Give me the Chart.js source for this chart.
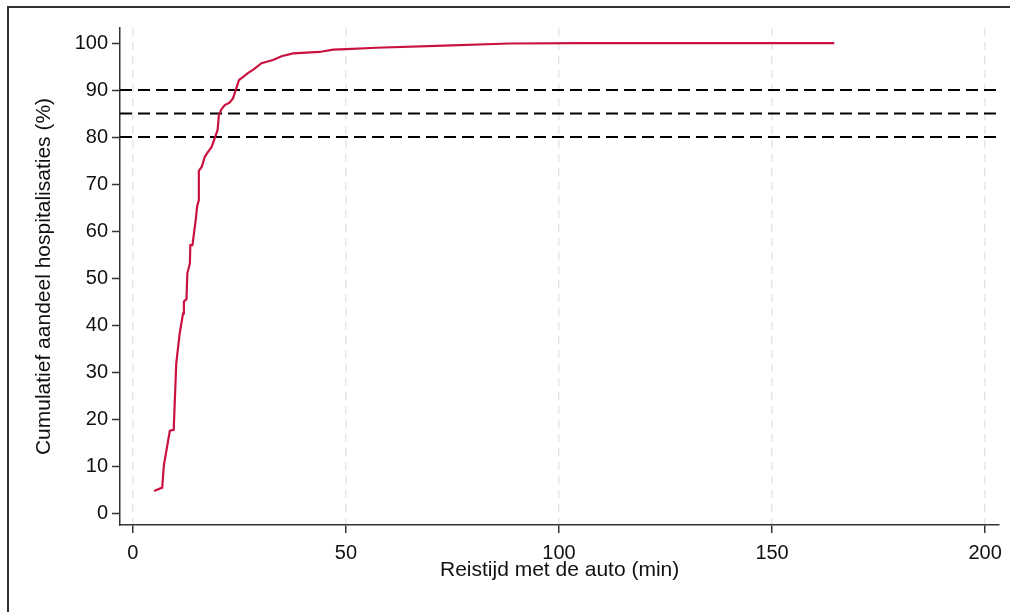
<!DOCTYPE html>
<html>
<head>
<meta charset="utf-8">
<script src="https://cdn.jsdelivr.net/npm/chart.js@4/dist/chart.umd.min.js"></script>
<style>
  html, body { margin: 0; padding: 0; background: #fff; overflow: hidden; }
  #wrap { position: relative; width: 1010px; height: 612px; }
  #frame {
    position: absolute; left: 7px; top: 6px; width: 1020px; height: 620px;
    border-left: 2px solid #333; border-top: 2px solid #333;
    pointer-events: none;
  }
  canvas { position: absolute; left: 0; top: 0; }
</style>
</head>
<body>
<div id="wrap">
  <canvas id="chart" width="1010" height="612"></canvas>
  <div id="frame"></div>
</div>
<script>
// Reistijd (min) vs cumulatief aandeel hospitalisaties (%)
const travelTime = [5.0, 6.9, 7.3, 8.7, 9.6, 10.2, 11.0, 11.8, 12.0, 12.6, 12.8, 13.4, 13.5, 14.0,
  14.8, 15.1, 15.5, 15.5, 16.2, 16.9, 17.7, 18.5, 19.4, 19.9, 20.2, 20.8, 21.6, 22.7, 23.5,
  24.3, 24.9, 25.9, 27.0, 28.2, 30.2, 32.9, 34.9, 37.6, 43.8, 47.0, 50.1, 57.1, 71.2, 88.4,
  104.8, 164.6];
const cumShare = [4.7, 5.4, 10.2, 17.5, 17.7, 31.8, 38.2, 42.5, 45.0, 45.5, 51.0, 53.1, 57.0, 57.0,
  62.6, 65.3, 66.6, 72.8, 73.7, 75.8, 76.9, 77.9, 80.2, 81.5, 84.7, 85.9, 86.8, 87.3, 88.2,
  90.4, 92.1, 92.8, 93.6, 94.3, 95.7, 96.4, 97.2, 97.8, 98.1, 98.6, 98.7, 99.0, 99.4, 99.9,
  100, 100];

const refLevels = [80, 85, 90];
const xTicks = [0, 50, 100, 150, 200];
const yTicks = [0, 10, 20, 30, 40, 50, 60, 70, 80, 90, 100];
const xMin = -3, xMax = 203.3;
const yMin = -2.55, yMax = 103.2;

const family = '"Liberation Sans", Arial, sans-serif';
const tickFont = { family, size: 20 };
const titleFont = { family, size: 21 };
const axisDark = '#333';

const datasets = [{
  data: travelTime.map((x, i) => ({ x, y: cumShare[i] })),
  borderColor: '#c9123f',
  borderWidth: 2.2,
  pointRadius: 0,
  tension: 0,
}];

refLevels.forEach(level => {
  datasets.push({
    data: [{ x: xMin, y: level }, { x: xMax, y: level }],
    borderColor: '#000',
    borderWidth: 2,
    borderDash: [12, 6],
    pointRadius: 0,
  });
});

new Chart(document.getElementById('chart'), {
  type: 'line',
  data: { datasets },
  options: {
    responsive: false,
    animation: false,
    layout: { padding: { top: 28, right: 10, left: 0, bottom: 0 } },
    plugins: { legend: { display: false }, tooltip: { enabled: false } },
    scales: {
      x: {
        type: 'linear',
        min: xMin,
        max: xMax,
        afterBuildTicks: axis => { axis.ticks = xTicks.map(v => ({ value: v })); },
        afterFit: axis => { axis.height = 87; },
        grid: {
          color: '#e6e6e6',
          lineWidth: 1.5,
          tickColor: axisDark,
          tickLength: 8,
          tickWidth: 1.5,
        },
        border: { color: axisDark, width: 1.5, dash: [8, 6] },
        ticks: { color: '#111', font: tickFont, padding: 8, maxRotation: 0 },
        title: {
          display: true,
          text: 'Reistijd met de auto (min)',
          color: '#111',
          font: titleFont,
          padding: { top: 0, bottom: 29 },
        },
      },
      y: {
        type: 'linear',
        min: yMin,
        max: yMax,
        afterBuildTicks: axis => { axis.ticks = yTicks.map(v => ({ value: v })); },
        afterFit: axis => { axis.width = 120; },
        grid: {
          drawOnChartArea: false,
          color: axisDark,
          tickColor: axisDark,
          tickLength: 8,
          tickWidth: 1.5,
        },
        border: { color: axisDark, width: 1.5 },
        ticks: { color: '#111', font: tickFont, padding: 4 },
        title: {
          display: true,
          text: 'Cumulatief aandeel hospitalisaties (%)',
          color: '#111',
          font: titleFont,
          padding: { top: 32, bottom: 0 },
        },
      },
    },
  },
});
</script>
</body>
</html>
